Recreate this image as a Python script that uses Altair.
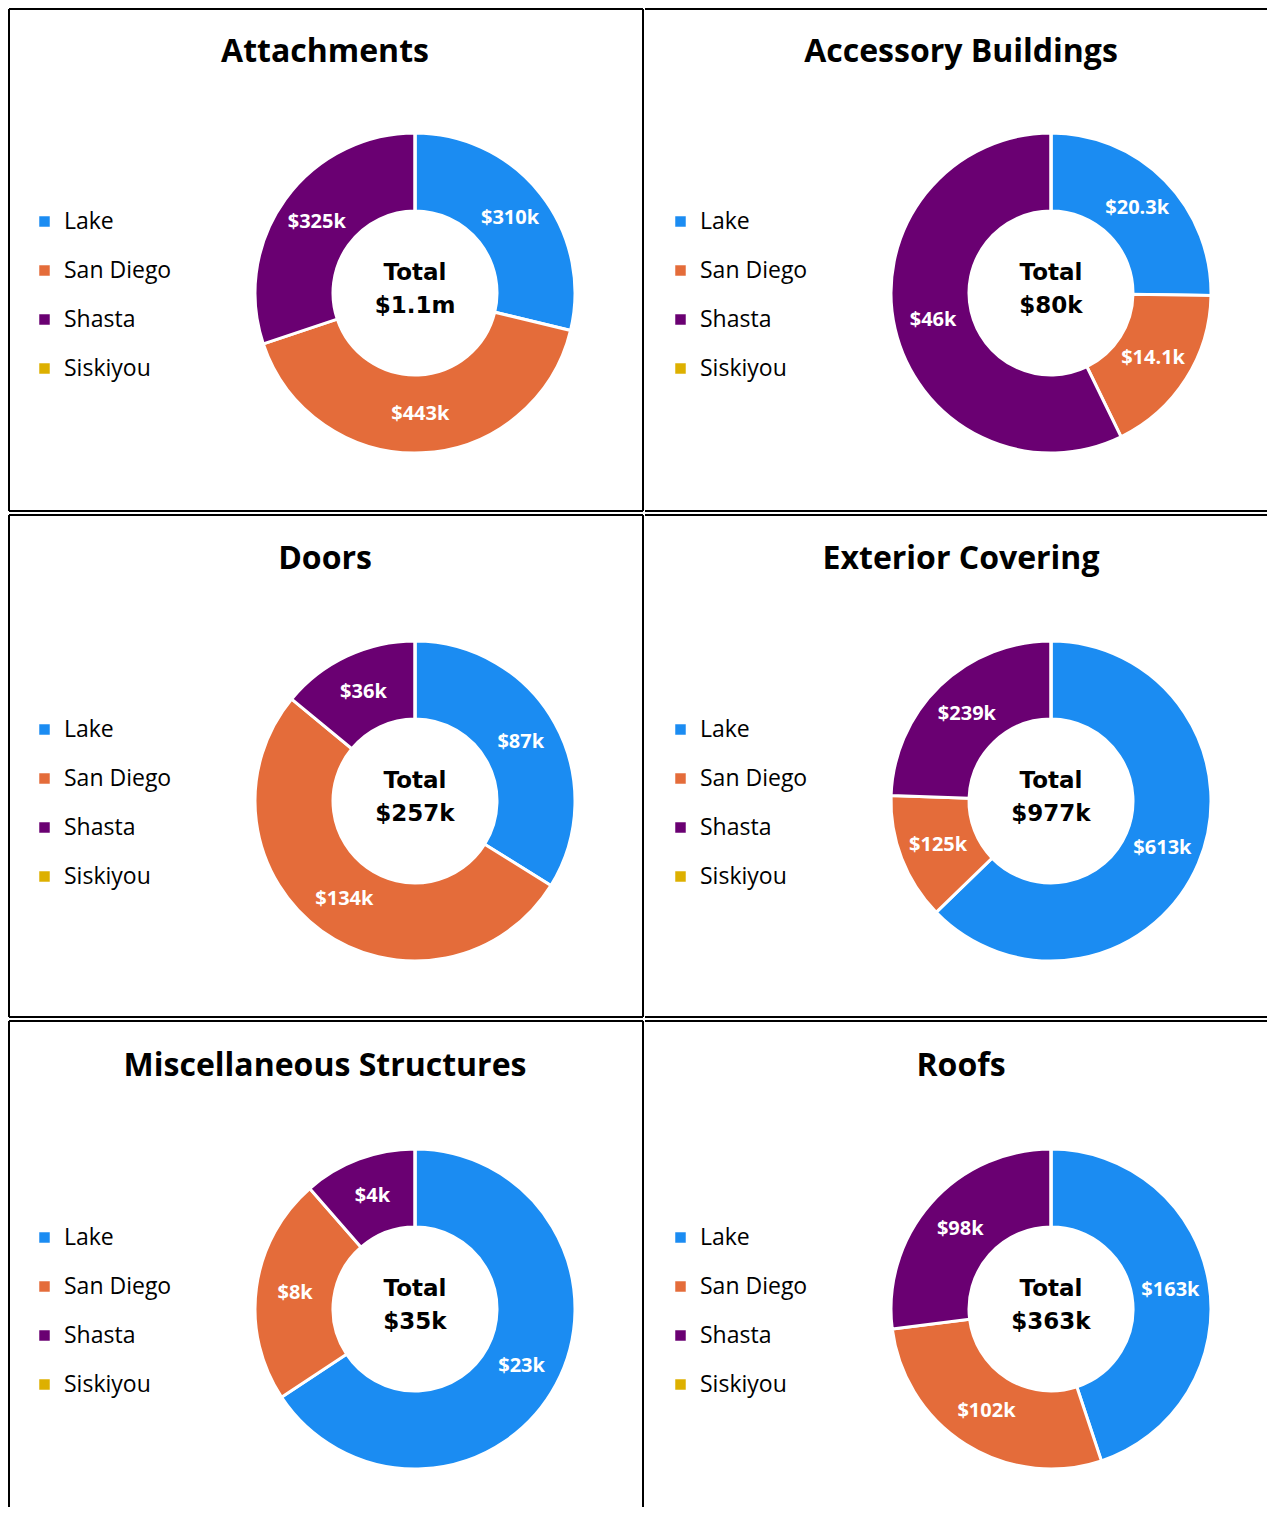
import altair as alt
import pandas as pd

# ---- data ----
titles = ["Attachments", "Accessory Buildings", "Doors", "Exterior Covering",
          "Miscellaneous Structures", "Roofs"]
categories = ["Lake", "San Diego", "Shasta", "Siskiyou"]
lake = [310, 20.3, 87, 613, 23, 163]
san_diego = [443, 14.1, 134, 125, 8, 102]
shasta = [325, 46, 36, 239, 4, 98]
siskiyou = [0, 0, 0, 0, 0, 0]
lake_lbl = ["$310k", "$20.3k", "$87k", "$613k", "$23k", "$163k"]
sd_lbl = ["$443k", "$14.1k", "$134k", "$125k", "$8k", "$102k"]
shasta_lbl = ["$325k", "$46k", "$36k", "$239k", "$4k", "$98k"]
sis_lbl = ["", "", "", "", "", ""]
totals = ["$1.1m", "$80k", "$257k", "$977k", "$35k", "$363k"]
colors = ["#1B8CF2", "#E46C3A", "#6A0072", "#DDB000"]

# ---- layout ----
COL_W = [634, 622]
ROW_H = [502, 502, 486]
COL_CX = [406, 406]
COL_TX = [316, 316]
COL_LX = [24, 24]
ROW_CY = [284, 286, 288]
ROW_TY = [43, 44, 45]
ROW_LY = [201, 203, 205]
FONT = "Open Sans"

one = pd.DataFrame({"d": [0]})


def rule(**enc):
    return alt.Chart(one).mark_rule(color="black", strokeWidth=2).encode(
        **{k: alt.value(v) for k, v in enc.items()})


def panel(i):
    r, c = divmod(i, 2)
    W, H = COL_W[c], ROW_H[r]
    CX, CY = COL_CX[c], ROW_CY[r]
    df = pd.DataFrame({
        "cat": categories,
        "idx": [0, 1, 2, 3],
        "value": [lake[i], san_diego[i], shasta[i], siskiyou[i]],
        "label": [lake_lbl[i], sd_lbl[i], shasta_lbl[i], sis_lbl[i]],
    })
    base = alt.Chart(df)
    arc = base.mark_arc(innerRadius=82, outerRadius=160, stroke="white",
                        strokeWidth=3).encode(
        theta=alt.Theta("value:Q", stack=True),
        order=alt.Order("idx:Q"),
        color=alt.Color("cat:N", sort=categories,
                        scale=alt.Scale(domain=categories, range=colors),
                        legend=alt.Legend(orient="none", legendX=COL_LX[c],
                                          legendY=ROW_LY[r],
                                          direction="vertical", title=None,
                                          symbolType="square", symbolSize=110,
                                          symbolStrokeWidth=0,
                                          labelFontSize=23, labelFont=FONT,
                                          labelColor="black", labelOffset=8,
                                          rowPadding=25, padding=0)),
        x=alt.value(CX), y=alt.value(CY),
    )
    lbl = base.mark_text(radius=121, fontSize=20, fontWeight="bold", font=FONT,
                         color="white", align="center", baseline="middle").encode(
        theta=alt.Theta("value:Q", stack=True),
        order=alt.Order("idx:Q"),
        text="label:N",
        x=alt.value(CX), y=alt.value(CY),
    )
    center = alt.Chart(pd.DataFrame({"t": ["Total\n" + totals[i]]})).mark_text(
        fontSize=23, fontWeight="bold", font="DejaVu Sans", color="black",
        lineBreak="\n", lineHeight=33, align="center", baseline="middle").encode(
        text="t:N", x=alt.value(CX), y=alt.value(CY - 20))
    title = alt.Chart(pd.DataFrame({"t": [titles[i]]})).mark_text(
        fontSize=32, fontWeight="bold", font=FONT, color="black",
        align="center", baseline="middle").encode(
        text="t:N", x=alt.value(COL_TX[c]), y=alt.value(ROW_TY[r]))

    layers = [arc, lbl, center, title, rule(x=0, x2=W, y=0)]
    if c == 0:
        layers.append(rule(x=0, y=0, y2=H))
        layers.append(rule(x=W, y=0, y2=H))
    if r < 2:
        layers.append(rule(x=0, x2=W, y=H))
    return alt.layer(*layers).properties(width=W, height=H)


rows = []
for r in range(3):
    rows.append(alt.hconcat(panel(2 * r), panel(2 * r + 1), spacing=0)
                .resolve_scale(color="independent")
                .resolve_legend(color="independent"))

chart = alt.vconcat(*rows, spacing=2) \
    .resolve_scale(color="independent") \
    .resolve_legend(color="independent").properties(padding=0) \
    .configure_view(strokeWidth=0)

chart.save("out.html", embed_options={"renderer": "svg", "actions": False})
